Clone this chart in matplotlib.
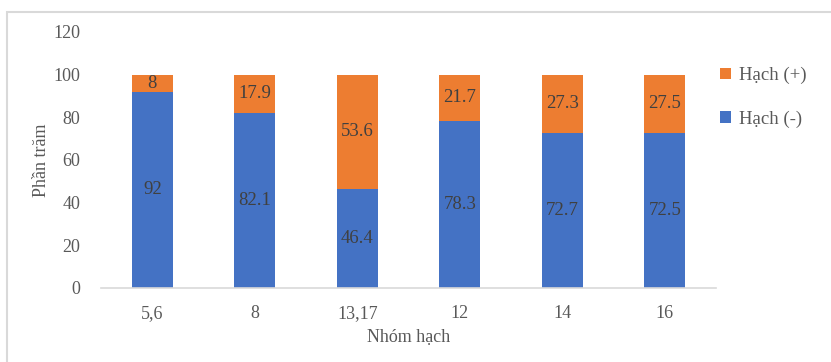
import matplotlib
matplotlib.use("Agg")
import matplotlib.pyplot as plt
from matplotlib.patches import Rectangle
import numpy as np

categories = ["5,6", "8", "13,17", "12", "14", "16"]
neg_values = [92, 82.1, 46.4, 78.3, 72.7, 72.5]
pos_values = [8, 17.9, 53.6, 21.7, 27.3, 27.5]
yticks = [0, 20, 40, 60, 80, 100, 120]

plt.rcParams['font.family'] = ['Liberation Serif', 'DejaVu Serif']

W, H = 831, 362
fig = plt.figure(figsize=(W/100, H/100), dpi=100)
ax = fig.add_axes([101/W, 1-288/H, (716-101)/W, (288-32)/H])

blue = "#4472C4"
orange = "#ED7D31"
x = np.arange(len(categories))
b1 = ax.bar(x, neg_values, width=0.4, color=blue, label="Hạch (-)", zorder=2)
b2 = ax.bar(x, pos_values, width=0.4, bottom=neg_values, color=orange, label="Hạch (+)", zorder=2)

for xi, n, p in zip(x, neg_values, pos_values):
    ax.text(xi, n/2, f"{n:g}", ha="center", va="center", fontsize=13.5, color="#404040")
    ax.text(xi, n + p/2, f"{p:g}", ha="center", va="center", fontsize=13.5, color="#404040")

ax.set_xlim(-0.5, len(categories)-0.5)
ax.set_ylim(0, 120)
ax.set_yticks(yticks)
ax.set_xticks(x)
ax.set_xticklabels(categories)
ax.tick_params(axis="both", length=0, labelsize=13, colors="#595959")
ax.tick_params(axis="x", pad=12)
ax.tick_params(axis="y", pad=15)
for s in ["top", "right", "left"]:
    ax.spines[s].set_visible(False)
ax.spines["bottom"].set_color("#D9D9D9")
ax.spines["bottom"].set_linewidth(1.2)

ax.set_ylabel("Phần trăm", fontsize=13, color="#595959", va="center")
ax.yaxis.set_label_coords((41-101)/615, 0.5)
ax.set_xlabel("Nhóm hạch", fontsize=13, color="#595959", labelpad=5)

handles = [b2, b1]
leg = fig.legend(handles, ["Hạch (+)", "Hạch (-)"], loc="upper left",
                 bbox_to_anchor=(703/W, 1-50/H), frameon=False, fontsize=13.5,
                 handlelength=0.6, handleheight=0.6, handletextpad=0.4,
                 labelspacing=1.4, labelcolor="#595959")

border = Rectangle((7/W, -0.1), 1.2, 1 - 12/H + 0.1, transform=fig.transFigure,
                   fill=False, edgecolor="#D9D9D9", linewidth=1.5)
fig.patches.append(border)

fig.savefig("out.png", dpi=100)
